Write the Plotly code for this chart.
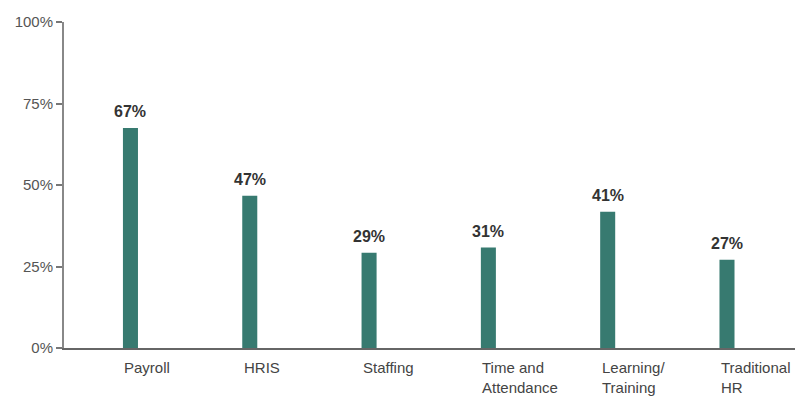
import plotly.graph_objects as go

categories = ["Payroll", "HRIS", "Staffing", "Time and<br>Attendance", "Learning/<br>Training", "Traditional<br>HR"]
values = [67.5, 46.7, 29.2, 30.8, 41.8, 27.1]
labels = ["67%", "47%", "29%", "31%", "41%", "27%"]
tick_vals = [0, 25, 50, 75, 100]
tick_text = ["0%", "25%", "50%", "75%", "100%"]

xs = list(range(len(categories)))
bar_color = "#377a70"
font_family = "Liberation Sans, Arial"

fig = go.Figure()
fig.add_trace(go.Bar(x=xs, y=values, width=0.126, marker=dict(color=bar_color, line=dict(width=0)),
                     hoverinfo="skip"))

annotations = []
for x, v, lab in zip(xs, values, labels):
    annotations.append(dict(x=x, y=v, text="<b>" + lab + "</b>", showarrow=False, xanchor="center",
                            yanchor="bottom", yshift=6,
                            font=dict(size=16, color="#333333", family=font_family)))
for x, c in zip(xs, categories):
    annotations.append(dict(x=x, y=0, yref="y", text=c, showarrow=False, xanchor="left", yanchor="top",
                            align="left", xshift=-8, yshift=-9,
                            font=dict(size=15, color="#444444", family=font_family)))

fig.update_layout(
    width=801, height=400,
    margin=dict(l=64, r=6, t=22, b=52),
    paper_bgcolor="white", plot_bgcolor="white",
    showlegend=False,
    annotations=annotations,
    xaxis=dict(range=[-0.557, 5.57], showticklabels=False, ticks="", showgrid=False, zeroline=False,
               showline=True, linecolor="#666666", linewidth=1.5),
    yaxis=dict(range=[0, 100], tickvals=tick_vals, ticktext=tick_text, ticks="outside", ticklen=6,
               tickcolor="#777777", tickwidth=1.5, showgrid=False, zeroline=False,
               showline=True, linecolor="#888888", linewidth=2,
               tickfont=dict(size=15, color="#555555", family=font_family)),
)

fig.write_html("out.html")
